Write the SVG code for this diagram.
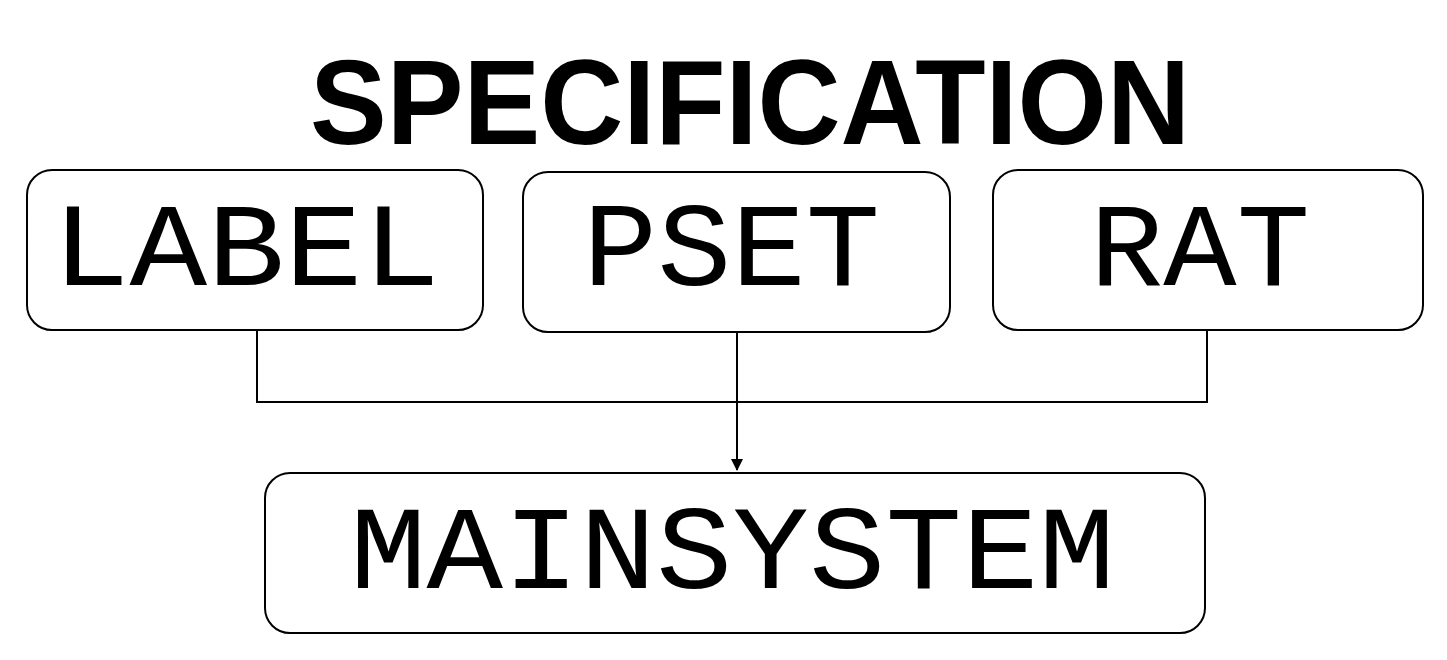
<svg xmlns="http://www.w3.org/2000/svg" width="1447" height="660" viewBox="0 0 1447 660">
<style>
.box{fill:#fff;stroke:#000;stroke-width:2}
.t{font-family:"Liberation Mono",monospace;font-size:118px;fill:#000}
.c{fill:none;stroke:#000;stroke-width:2}
</style>
<defs><marker id="a" markerWidth="12" markerHeight="12" refX="11" refY="6" orient="auto" markerUnits="userSpaceOnUse"><path d="M0,0 L12,6 L0,12 z" fill="#000"/></marker></defs>
<rect width="1447" height="660" fill="#fff"/>
<text x="750" y="144" text-anchor="middle" font-family="Liberation Sans,Arial,sans-serif" font-weight="bold" font-size="120" textLength="880" lengthAdjust="spacingAndGlyphs">SPECIFICATION</text>
<g id="connectors">
<path class="c" d="M257,330 V402 H1207 V330"/>
<path class="c" d="M737,332 V470" marker-end="url(#a)"/>
</g>
<g id="label"><rect class="box" x="27" y="170" width="456" height="160" rx="25"/><text class="t" x="52" y="285" textLength="388" lengthAdjust="spacingAndGlyphs">LABEL</text></g>
<g id="pset"><rect class="box" x="523" y="172" width="427" height="160" rx="25"/><text class="t" x="583" y="285" textLength="297" lengthAdjust="spacingAndGlyphs">PSET</text></g>
<g id="rat"><rect class="box" x="993" y="170" width="430" height="160" rx="25"/><text class="t" x="1090" y="285" textLength="220" lengthAdjust="spacingAndGlyphs">RAT</text></g>
<g id="mainsystem"><rect class="box" x="265" y="473" width="940" height="160" rx="25"/><text class="t" x="350" y="588" textLength="765" lengthAdjust="spacingAndGlyphs">MAINSYSTEM</text></g>
</svg>
